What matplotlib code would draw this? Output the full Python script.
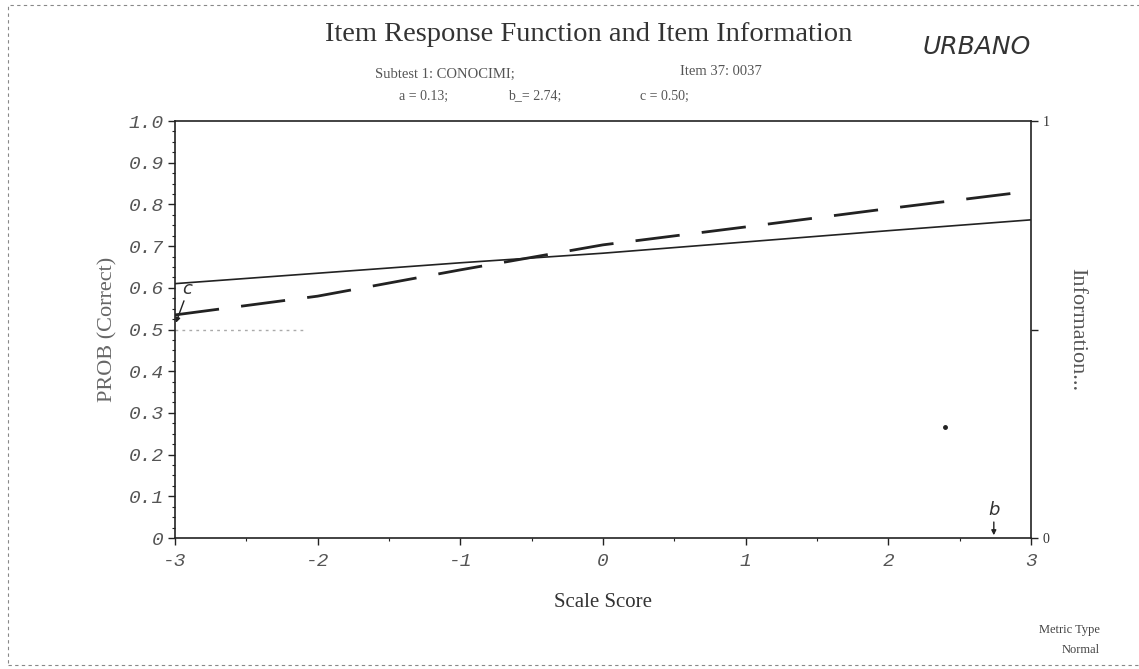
import matplotlib
matplotlib.use("Agg")
import matplotlib.pyplot as plt
from matplotlib.patches import Rectangle
from matplotlib.ticker import MultipleLocator

theta = [-3, -2, -1, 0, 1, 2, 3]
irf_model = [0.61, 0.635, 0.66, 0.683, 0.71, 0.737, 0.763]
irf_observed = [0.535, 0.58, 0.643, 0.703, 0.746, 0.79, 0.832]
x_ticks = [-3, -2, -1, 0, 1, 2, 3]
x_ticklabels = ["-3", "-2", "-1", "0", "1", "2", "3"]
y_ticks = [0, 0.1, 0.2, 0.3, 0.4, 0.5, 0.6, 0.7, 0.8, 0.9, 1.0]
y_ticklabels = ["0", "0.1", "0.2", "0.3", "0.4", "0.5", "0.6", "0.7", "0.8", "0.9", "1.0"]
c_param = 0.50
b_param = 2.74
stray_point = (2.4, 0.266)

fig = plt.figure(figsize=(11.39, 6.69), dpi=100)
ax = fig.add_axes([0.1536, 0.1958, 0.7515, 0.6233])

ax.plot(theta, irf_model, color="#222222", lw=1.2)
ax.plot(theta, irf_observed, color="#222222", lw=2.0, dashes=(16, 8))
ax.plot([-3, -2.09], [c_param, c_param], color="#aaaaaa", lw=1, ls=(0, (2, 3)))
ax.plot([stray_point[0]], [stray_point[1]], "o", color="#222222", ms=2.5)

# c marker
ax.annotate("", xy=(-3, 0.51), xytext=(-2.93, 0.575),
            arrowprops=dict(arrowstyle="-|>", color="#222222", lw=1, mutation_scale=7))
ax.text(-2.95, 0.575, "c", fontsize=13, style="italic", color="#333333",
        ha="left", va="bottom", family="DejaVu Sans")
# b marker
ax.annotate("", xy=(b_param, 0.0), xytext=(b_param, 0.045),
            arrowprops=dict(arrowstyle="-|>", color="#222222", lw=1, mutation_scale=7))
ax.text(b_param, 0.045, "b", fontsize=13, style="italic", color="#333333",
        ha="center", va="bottom", family="DejaVu Sans")

ax.set_xlim(-3, 3)
ax.set_ylim(0, 1.0)
ax.set_xticks(x_ticks)
ax.set_xticklabels(x_ticklabels)
ax.set_yticks(y_ticks)
ax.set_yticklabels(y_ticklabels)
ax.xaxis.set_minor_locator(MultipleLocator(0.5))
ax.yaxis.set_minor_locator(MultipleLocator(0.025))
for lab in ax.get_xticklabels() + ax.get_yticklabels():
    lab.set_family("Liberation Mono")
    lab.set_style("italic")
    lab.set_color("#555555")
    lab.set_fontsize(14)
ax.tick_params(axis="both", which="major", direction="out", length=5, width=1, color="#222222")
ax.tick_params(axis="both", which="minor", direction="out", length=2.5, width=0.8, color="#222222")
ax.tick_params(axis="x", pad=6)
ax.tick_params(axis="y", pad=3)
for s in ax.spines.values():
    s.set_color("#222222")
    s.set_linewidth(1.2)

ax.set_xlabel("Scale Score", family="Liberation Serif", fontsize=15, color="#333333", labelpad=16)
ax.set_ylabel("PROB (Correct)", family="Liberation Serif", fontsize=16, color="#666666", labelpad=8)

ax2 = ax.twinx()
ax2.set_ylim(0, 1)
ax2.set_yticks([0, 0.5, 1])
ax2.set_yticklabels(["0", "", "1"], family="Liberation Serif", fontsize=10, color="#333333")
ax2.tick_params(axis="y", direction="out", length=5, width=1, color="#222222")
for s in ax2.spines.values():
    s.set_visible(False)
ax2.set_ylabel("Information...", rotation=270, family="Liberation Serif", fontsize=16,
               color="#555555", labelpad=26)

fig.text(0.517, 0.948, "Item Response Function and Item Information", ha="center", va="center",
         family="Liberation Serif", fontsize=20.5, color="#333333")
fig.text(0.329, 0.889, "Subtest 1: CONOCIMI;", ha="left", va="center",
         family="Liberation Serif", fontsize=10.5, color="#555555")
fig.text(0.597, 0.893, "Item 37: 0037", ha="left", va="center",
         family="Liberation Serif", fontsize=10.5, color="#555555")
fig.text(0.350, 0.856, "a = 0.13;", ha="left", va="center",
         family="Liberation Serif", fontsize=10, color="#555555")
fig.text(0.446, 0.856, "b_= 2.74;", ha="left", va="center",
         family="Liberation Serif", fontsize=10, color="#555555")
fig.text(0.562, 0.856, "c = 0.50;", ha="left", va="center",
         family="Liberation Serif", fontsize=10, color="#555555")
fig.text(0.905, 0.930, "URBANO", ha="right", va="center", style="italic",
         family="DejaVu Sans", fontsize=18, color="#333333")
fig.text(0.966, 0.058, "Metric Type", ha="right", va="center",
         family="Liberation Serif", fontsize=9, color="#444444")
fig.text(0.966, 0.028, "Normal", ha="right", va="center",
         family="Liberation Serif", fontsize=9, color="#444444")

fig.patches.append(Rectangle((0.007, 0.006), 1.2, 0.986, transform=fig.transFigure,
                             fill=False, ec="#888888", lw=0.8, ls=(0, (3, 3))))

fig.savefig("out.png", dpi=100)
